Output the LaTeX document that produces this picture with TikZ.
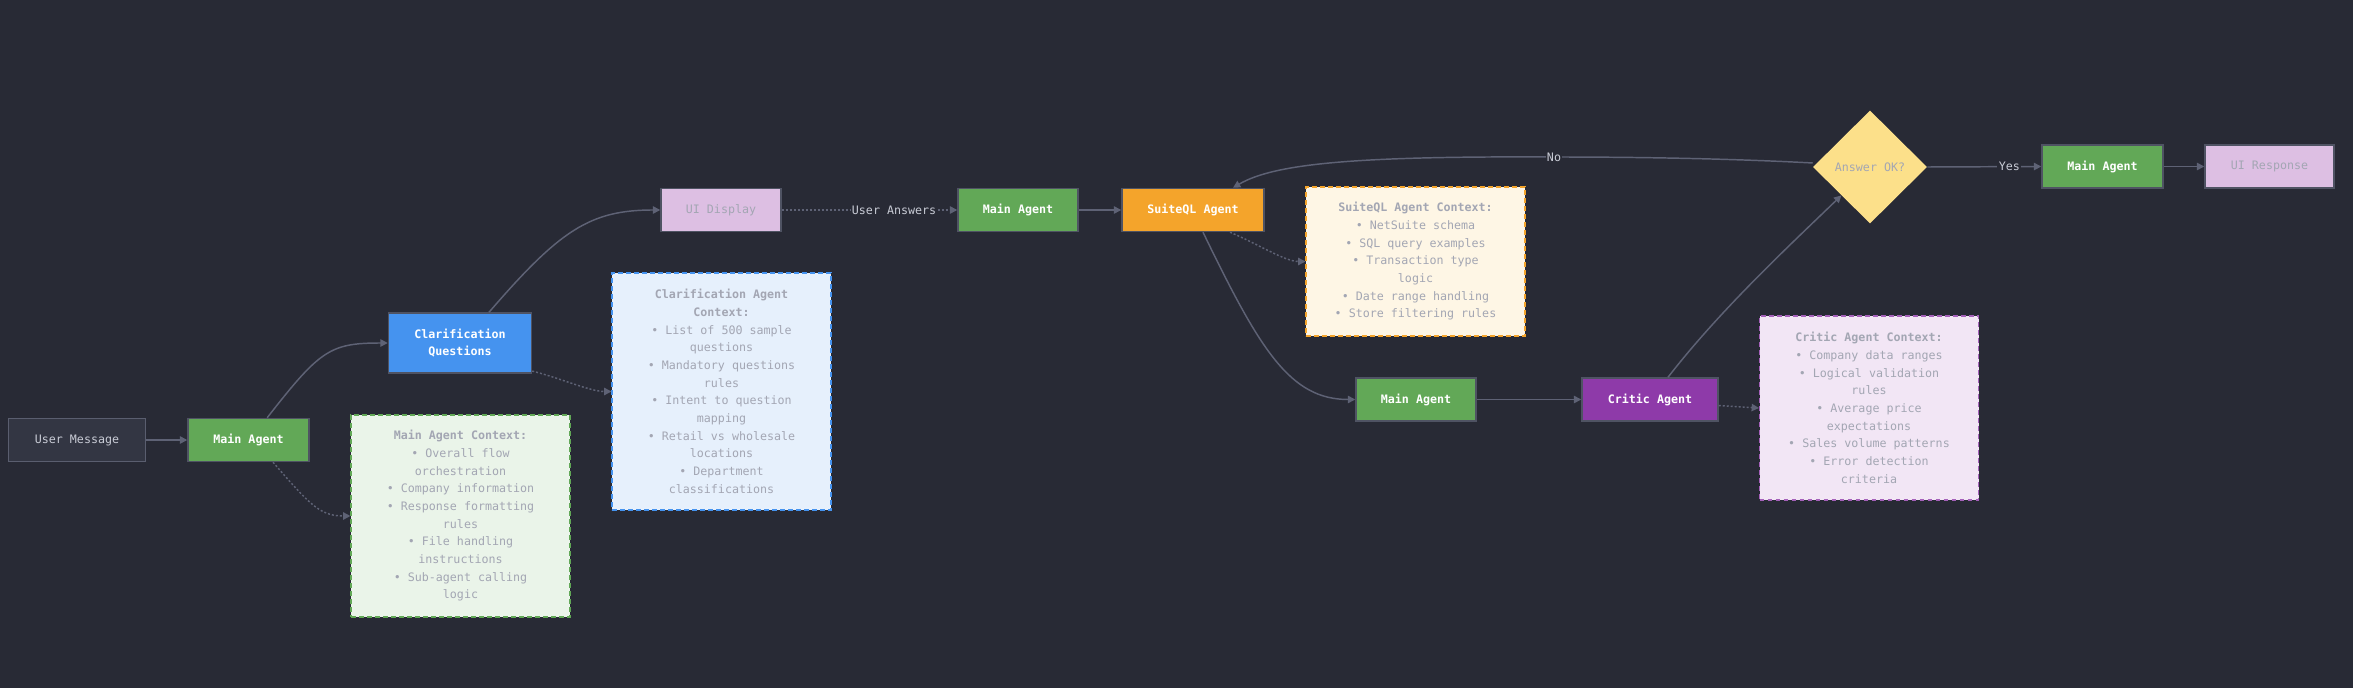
\documentclass[tikz,border=0pt]{standalone}
\usepackage{fontspec}
\setmainfont{DejaVu Sans Mono}
\usetikzlibrary{arrows.meta,shapes.geometric}
\definecolor{nen}{HTML}{282A35}
\definecolor{vien}{HTML}{4F5363}
\definecolor{duong}{HTML}{5E6275}
\definecolor{chusang}{HTML}{C9CCD6}
\definecolor{chuxam}{HTML}{A3A6B3}
\definecolor{msgfill}{HTML}{333643}
\definecolor{msgline}{HTML}{5A5E6F}
\definecolor{xanhla}{HTML}{62A857}
\definecolor{xanhduong}{HTML}{4593EF}
\definecolor{tim}{HTML}{8E3AA9}
\definecolor{cam}{HTML}{F4A42B}
\definecolor{vang}{HTML}{FCE08A}
\definecolor{hong}{HTML}{DDBFE3}
\definecolor{ctxgreen}{HTML}{EAF4E9}
\definecolor{ctxblue}{HTML}{E6F0FC}
\definecolor{ctxorange}{HTML}{FEF6E5}
\definecolor{ctxpurple}{HTML}{F2E6F5}
\begin{document}
\begin{tikzpicture}[x=0.75pt,y=-0.75pt,
	uibox/.style={draw=vien, line width=1.1pt, inner sep=0pt, align=center,
		minimum height=32.25pt, font=\fontsize{8.75}{13.25}\selectfont},
	agent/.style={uibox, text=white, font=\fontsize{8.75}{13.25}\selectfont\bfseries},
	ctxbox/.style={uibox, line width=0.8pt, text=chuxam, dash pattern=on 3.5pt off 2.5pt, minimum width=164.25pt},
	flow/.style={draw=duong, line width=1.1pt, -{Triangle[length=5.5pt,width=5.5pt]}},
	ref/.style={flow, dash pattern=on 1.5pt off 1.5pt},
	lbl/.style={fill=nen, text=chusang, inner sep=1pt, font=\fontsize{8.75}{13.25}\selectfont}]
	% Nền
	\fill[nen] (0,0) rectangle (2353,688);
	
	% Các khối tác tử
	\node[uibox, fill=msgfill, draw=msgline, text=chusang, minimum width=102.75pt] (msg) at (77,440) {User Message};
	\node[agent, fill=xanhla, minimum width=90.75pt] (main1) at (248.5,440) {Main Agent};
	\node[agent, fill=xanhduong, minimum width=107.25pt, minimum height=45pt] (clarq) at (460,343) {Clarification\\Questions};
	\node[uibox, fill=hong, text=chuxam, minimum width=90pt] (uidisp) at (721,210) {UI Display};
	\node[agent, fill=xanhla, minimum width=90pt] (main2) at (1018,210) {Main Agent};
	\node[agent, fill=cam, minimum width=106.5pt] (suite) at (1193,210) {SuiteQL Agent};
	\node[agent, fill=xanhla, minimum width=90pt] (main3) at (1416,399.5) {Main Agent};
	\node[agent, fill=tim, minimum width=102pt] (critic) at (1650,399.5) {Critic Agent};
	\node[diamond, fill=vang, inner sep=0pt, minimum width=85.5pt, minimum height=84.75pt,
		text=chuxam, font=\fontsize{8.75}{13.25}\selectfont] (ok) at (1870,167) {Answer OK?};
	\node[agent, fill=xanhla, minimum width=90.75pt] (main4) at (2102.5,166.5) {Main Agent};
	\node[uibox, fill=hong, text=chuxam, minimum width=96.75pt] (uiresp) at (2269.5,166.5) {UI Response};
	
	% Các khối ngữ cảnh
	\node[ctxbox, fill=ctxgreen, draw=xanhla, minimum height=151.5pt] (mainctx) at (460.5,516)
		{\textbf{Main Agent Context:}\\• Overall flow\\orchestration\\• Company information\\• Response formatting\\rules\\• File handling\\instructions\\• Sub-agent calling\\logic};
	\node[ctxbox, fill=ctxblue, draw=xanhduong, minimum height=177.75pt] (clarctx) at (721.5,391.5)
		{\textbf{Clarification Agent}\\\textbf{Context:}\\• List of 500 sample\\questions\\• Mandatory questions\\rules\\• Intent to question\\mapping\\• Retail vs wholesale\\locations\\• Department\\classifications};
	\node[ctxbox, fill=ctxorange, draw=cam, minimum height=111.75pt] (suitectx) at (1415.5,261.5)
		{\textbf{SuiteQL Agent Context:}\\• NetSuite schema\\• SQL query examples\\• Transaction type\\logic\\• Date range handling\\• Store filtering rules};
	\node[ctxbox, fill=ctxpurple, draw=tim!80!white, minimum height=138pt] (criticctx) at (1869,408)
		{\textbf{Critic Agent Context:}\\• Company data ranges\\• Logical validation\\rules\\• Average price\\expectations\\• Sales volume patterns\\• Error detection\\criteria};
	
	% Các đường nối thẳng
	\foreach \a/\b in {msg/main1, main2/suite, main3/critic, main4/uiresp}{\draw[flow] (\a) -- (\b);}
	
	% Các đường cong
	\draw[flow] ([xshift=14pt]main1.north) .. controls (320,350) and (330,343) .. (clarq.west);
	\draw[flow] ([xshift=21.75pt]clarq.north) .. controls (560,230) and (590,210) .. (uidisp.west);
	\draw[flow] ([xshift=7.5pt]suite.south) .. controls (1260,350) and (1290,399.5) .. (main3.west);
	\draw[flow] ([xshift=13.5pt]critic.north) .. controls (1720,310) and (1790,245) .. (ok.south west);
	\draw[flow] ([yshift=3pt]ok.west) .. controls (1720,158) and (1620,157) .. (1554,157) node[lbl] (lblno) {No}
		.. controls (1360,156) and (1275,163) .. ([xshift=30pt]suite.north);
	\draw[flow] (ok.east) -- (main4.west) node[lbl, pos=0.72] (lblyes) {Yes};
	
	% Các đường chấm tới ngữ cảnh
	\draw[ref] ([xshift=18.4pt]main1.south) .. controls (310,505) and (320,516) .. (mainctx.west);
	\draw[ref] ([yshift=2pt]clarq.south east) .. controls (560,378) and (590,391.5) .. (clarctx.west);
	\draw[ref] ([xshift=27.75pt]suite.south) .. controls (1260,245) and (1285,261.5) .. (suitectx.west);
	\draw[ref] ([yshift=-4.5pt]critic.east) -- (criticctx.west);
	\draw[ref] (uidisp.east) -- (main2.west) node[lbl, pos=0.64] (lblans) {User Answers};
\end{tikzpicture}
\end{document}
